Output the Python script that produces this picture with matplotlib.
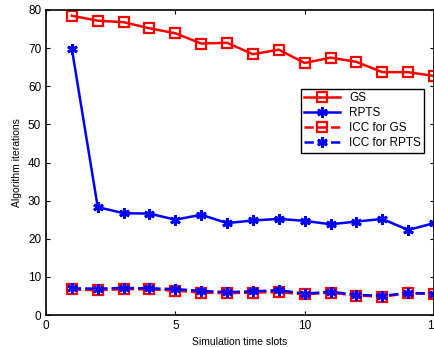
import numpy as np
import matplotlib
matplotlib.use("Agg")
import matplotlib.pyplot as plt

plt.rcParams['font.family'] = ['Liberation Sans', 'DejaVu Sans']

slots = np.arange(1, 16)
gs = [78.5, 77.2, 76.8, 75.2, 73.9, 71.2, 71.4, 68.4, 69.6, 66.1, 67.5, 66.4, 63.7, 63.7, 62.7]
rpts = [69.8, 28.3, 26.7, 26.6, 25.0, 26.3, 24.1, 24.8, 25.2, 24.7, 23.8, 24.5, 25.2, 22.3, 24.1]
icc_gs = [6.7, 6.5, 6.8, 6.7, 6.4, 5.9, 5.7, 5.9, 6.0, 5.4, 5.9, 5.1, 4.8, 5.7, 5.5]
icc_rpts = [7.0, 6.9, 7.1, 7.0, 6.8, 6.3, 6.0, 6.2, 6.5, 5.6, 6.1, 5.3, 5.0, 5.8, 5.6]

fig = plt.figure(figsize=(4.35, 3.47), dpi=100)
ax = fig.add_axes([46/435, 1 - 315/347, 388/435, 305/347])

star = (6, 2, 0)
ax.plot(slots, gs, color='red', lw=1.8, marker='s', ms=6.5, mfc='none', mew=1.6, label='GS')
ax.plot(slots, rpts, color='blue', lw=1.8, marker=star, ms=7.5, mew=2, label='RPTS')
ax.plot(slots, icc_gs, color='red', lw=1.8, ls='--', marker='s', ms=6.5, mfc='none', mew=1.6, label='ICC for GS')
ax.plot(slots, icc_rpts, color='blue', lw=1.8, ls='--', marker=star, ms=7.5, mew=2, label='ICC for RPTS')

ax.set_xlim(0, 15)
ax.set_ylim(0, 80)
ax.set_xticks([0, 5, 10, 15])
ax.set_yticks(range(0, 81, 10))
ax.tick_params(direction='in', top=True, right=True, labelsize=8.5, length=3)
for s in ax.spines.values():
    s.set_linewidth(1.2)
ax.set_xlabel('Simulation time slots', fontsize=7.5)
ax.set_ylabel('Algorithm iterations', fontsize=7.5)

leg = ax.legend(loc='upper right', bbox_to_anchor=(0.975, 0.742), fontsize=8.5,
                fancybox=False, framealpha=1, edgecolor='black', handlelength=3,
                borderpad=0.3, labelspacing=0.25, borderaxespad=0)
leg.get_frame().set_linewidth(1.0)

fig.savefig('out.png', dpi=100)
